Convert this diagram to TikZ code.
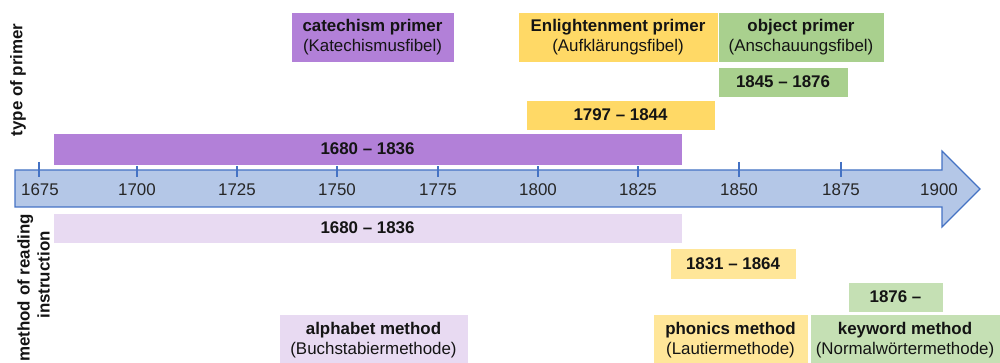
\documentclass[tikz,border=0pt]{standalone}
\usepackage{fontspec}
\setmainfont{Liberation Sans}
\definecolor{purpleD}{RGB}{178,128,216}
\definecolor{purpleL}{RGB}{232,218,242}
\definecolor{yellowD}{RGB}{255,217,102}
\definecolor{yellowL}{RGB}{255,230,153}
\definecolor{greenD}{RGB}{169,208,142}
\definecolor{greenL}{RGB}{197,224,180}
\definecolor{axisfill}{RGB}{180,199,231}
\definecolor{axisline}{RGB}{68,114,196}
\definecolor{txt}{RGB}{20,20,20}
\definecolor{yrtxt}{RGB}{38,38,38}
\begin{document}
\begin{tikzpicture}[x=1pt,y=-1pt,
  box/.style={rectangle, inner sep=0pt, draw=white, line width=0.6pt, align=center,
    font=\fontsize{16.9}{20}\selectfont, text=txt},
  yrlbl/.style={inner sep=0pt, font=\fontsize{16.9}{20}\selectfont, text=yrtxt},
  sidelbl/.style={inner sep=0pt, rotate=90, align=center, font=\fontsize{16.9}{20}\selectfont\bfseries, text=txt},
  tickmark/.style={draw=axisline, line width=1.6pt}]
\useasboundingbox (0,0) rectangle (1000,363);
% time axis
\filldraw[fill=axisfill, draw=axisline, line width=1.1pt]
  (15,170) -- (942,170) -- (942,151) -- (980,189) -- (942,227) -- (942,207) -- (15,207) -- cycle;
\foreach \x in {39,137,237,337,438,538,638,739,841}
  \draw[tickmark] (\x,162) -- (\x,177);
\foreach \x/\yr in {40/1675,137/1700,237/1725,337/1750,438/1775,538/1800,638/1825,739/1850,841/1875,939/1900}
  \node[yrlbl] (yr\yr) at (\x,190) {\yr};
% side labels
\node[sidelbl] (typelbl) at (18,80) {type of primer};
\node[sidelbl] (methlbl) at (33.5,288) {method of reading\\\hspace*{26pt}instruction};
% type of primer
\node[box, fill=purpleD, minimum width=163pt, minimum height=50pt] (cat) at (372.5,37)
  {\textbf{catechism primer}\\(Katechismusfibel)};
\node[box, fill=yellowD, minimum width=200pt, minimum height=50pt] (enl) at (618,37)
  {\textbf{Enlightenment primer}\\(Aufklärungsfibel)};
\node[box, fill=greenD, minimum width=166pt, minimum height=50pt] (obj) at (801,37)
  {\textbf{object primer}\\(Anschauungsfibel)};
\node[box, fill=greenD, minimum width=130pt, minimum height=30pt] (objyr) at (783,82)
  {\textbf{1845 – 1876}};
\node[box, fill=yellowD, minimum width=189pt, minimum height=30pt] (enlyr) at (620.5,115)
  {\textbf{1797 – 1844}};
\node[box, fill=purpleD, minimum width=629pt, minimum height=32pt] (catyr) at (367.5,149)
  {\textbf{1680 – 1836}};
% method of reading instruction
\node[box, fill=purpleL, minimum width=629pt, minimum height=30pt] (alphyr) at (367.5,228)
  {\textbf{1680 – 1836}};
\node[box, fill=yellowL, minimum width=126pt, minimum height=31pt] (phonyr) at (733,263.5)
  {\textbf{1831 – 1864}};
\node[box, fill=greenL, minimum width=95pt, minimum height=30pt] (keyyr) at (895.5,297)
  {\textbf{1876 –}};
\node[box, fill=purpleL, minimum width=189pt, minimum height=52pt] (alph) at (373.5,340)
  {\textbf{alphabet method}\\(Buchstabiermethode)};
\node[box, fill=yellowL, minimum width=155pt, minimum height=52pt] (phon) at (730.5,340)
  {\textbf{phonics method}\\(Lautiermethode)};
\node[box, fill=greenL, minimum width=190pt, minimum height=52pt] (key) at (905,340)
  {\textbf{keyword method}\\(Normalwörtermethode)};
\end{tikzpicture}
\end{document}
